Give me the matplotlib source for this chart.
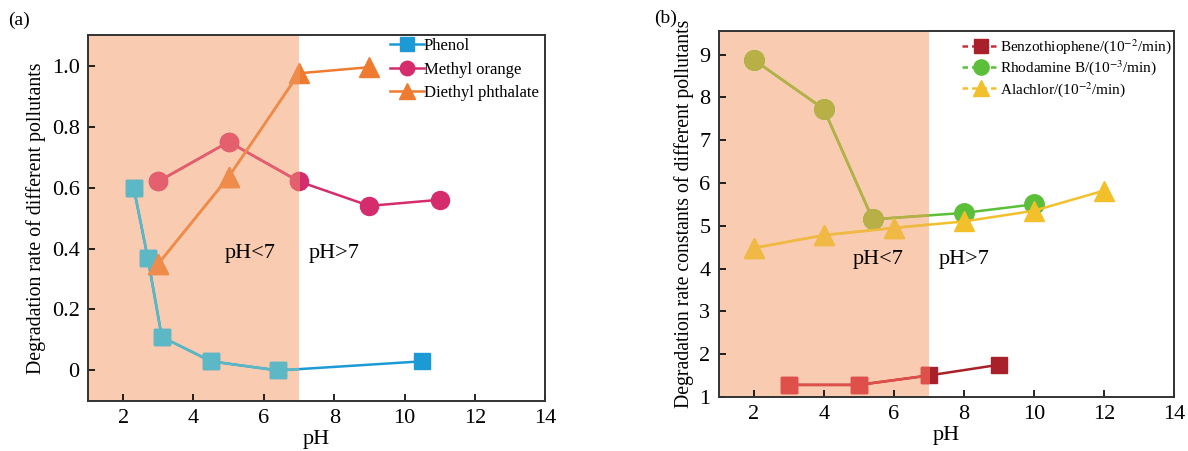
import matplotlib
matplotlib.use("Agg")
import matplotlib.pyplot as plt
from matplotlib.lines import Line2D

plt.rcParams["font.family"] = ["Liberation Serif", "DejaVu Serif"]
plt.rcParams["mathtext.fontset"] = "stix"

# ---- panel (a) data ----
phenol_ph = [2.3, 2.7, 3.1, 4.5, 6.4, 10.5]
phenol_val = [0.60, 0.37, 0.11, 0.03, 0.0, 0.03]
mo_ph = [3, 5, 7, 9, 11]
mo_val = [0.62, 0.75, 0.62, 0.54, 0.56]
dep_ph = [3, 5, 7, 9]
dep_val = [0.35, 0.635, 0.975, 0.995]

# ---- panel (b) data ----
bt_ph = [3, 5, 7, 9]
bt_val = [1.28, 1.28, 1.50, 1.75]
rb_ph = [2, 4, 5.4, 8, 10]
rb_val = [8.88, 7.73, 5.15, 5.30, 5.50]
ala_ph = [2, 4, 6, 8, 10, 12]
ala_val = [4.48, 4.78, 4.95, 5.10, 5.35, 5.82]

SHADE = "#f9cbb0"
ACID_LIMIT = 7


def draw_series(ax, shade, x, y, c_out, c_in, marker, ms, label=None):
    # full series in the "outside" colour, then a copy clipped to the shaded band
    ax.plot(x, y, color=c_out, marker=marker, ms=ms, lw=1.8, zorder=3, label=label)
    inner, = ax.plot(x, y, color=c_in, marker=marker, ms=ms, lw=1.8, zorder=4)
    inner.set_clip_path(shade)


def style_axes(ax):
    for sp in ax.spines.values():
        sp.set_linewidth(1.4)
        sp.set_color("#333333")
    ax.tick_params(direction="in", length=5, width=1.2, labelsize=16, pad=6)
    ax.set_xlim(1, 14)
    ax.set_xticks(range(2, 15, 2))
    ax.set_xlabel("pH", fontsize=16, labelpad=1)


fig = plt.figure(figsize=(11.88, 4.51), dpi=100)

# ---- (a) ----
ax1 = fig.add_axes([0.074, 0.111, 0.385, 0.811])
shade1 = ax1.axvspan(1, ACID_LIMIT, color=SHADE, lw=0, zorder=0)
draw_series(ax1, shade1, phenol_ph, phenol_val, "#1b9ad6", "#5bb8c4", "s", 12, "Phenol")
draw_series(ax1, shade1, mo_ph, mo_val, "#d42c6c", "#e5606e", "o", 13, "Methyl orange")
draw_series(ax1, shade1, dep_ph, dep_val, "#ee7b2f", "#ef8c4c", "^", 14, "Diethyl phthalate")
style_axes(ax1)
ax1.set_ylim(-0.1, 1.1)
ax1.set_yticks([0, 0.2, 0.4, 0.6, 0.8, 1.0])
ax1.set_yticklabels(["0", "0.2", "0.4", "0.6", "0.8", "1.0"])
ax1.set_ylabel("Degradation rate of different pollutants", fontsize=14.3, labelpad=4)
ax1.text(5.6, 0.385, "pH<7", fontsize=16, ha="center", va="center")
ax1.text(8.0, 0.385, "pH>7", fontsize=16, ha="center", va="center")
ax1.legend(loc="upper right", bbox_to_anchor=(1.0, 1.01), frameon=False, fontsize=12,
           handlelength=2.0, handletextpad=0.0, labelspacing=0.45, borderaxespad=0.0,
           markerscale=0.8)
fig.text(0.007, 0.955, "(a)", fontsize=14, ha="left", va="center")

# ---- (b) ----
ax2 = fig.add_axes([0.605, 0.120, 0.383, 0.811])
shade2 = ax2.axvspan(1, ACID_LIMIT, color=SHADE, lw=0, zorder=0)
draw_series(ax2, shade2, bt_ph, bt_val, "#a8202a", "#e0504a", "s", 12)
draw_series(ax2, shade2, rb_ph, rb_val, "#5cbf3a", "#b8b046", "o", 14)
draw_series(ax2, shade2, ala_ph, ala_val, "#f2c02a", "#f0b845", "^", 15)
style_axes(ax2)
ax2.set_ylim(1, 9.55)
ax2.set_yticks(range(1, 10))
ax2.set_ylabel("Degradation rate constants of different pollutants", fontsize=14.2, labelpad=4)
ax2.text(5.55, 4.2, "pH<7", fontsize=16, ha="center", va="center")
ax2.text(8.0, 4.2, "pH>7", fontsize=16, ha="center", va="center")

handles = [
    Line2D([], [], color="#c8303a", ls=(0, (2.2, 1.6)), lw=1.8, marker="s", ms=10,
           mfc="#a8202a", mec="#a8202a"),
    Line2D([], [], color="#5cbf3a", ls=(0, (2.2, 1.6)), lw=1.8, marker="o", ms=11,
           mfc="#5cbf3a", mec="#5cbf3a"),
    Line2D([], [], color="#f2c02a", ls=(0, (2.2, 1.6)), lw=1.8, marker="^", ms=12,
           mfc="#f2c02a", mec="#f2c02a"),
]
labels = [r"Benzothiophene/(10$^{-2}$/min)", r"Rhodamine B/(10$^{-3}$/min)",
          r"Alachlor/(10$^{-2}$/min)"]
ax2.legend(handles, labels, loc="upper right", bbox_to_anchor=(1.01, 1.0), frameon=False,
           fontsize=11, handlelength=2.4, handletextpad=0.1, labelspacing=0.15,
           borderaxespad=0.0)
fig.text(0.551, 0.96, "(b)", fontsize=14, ha="left", va="center")

fig.savefig("out.png", dpi=100)
